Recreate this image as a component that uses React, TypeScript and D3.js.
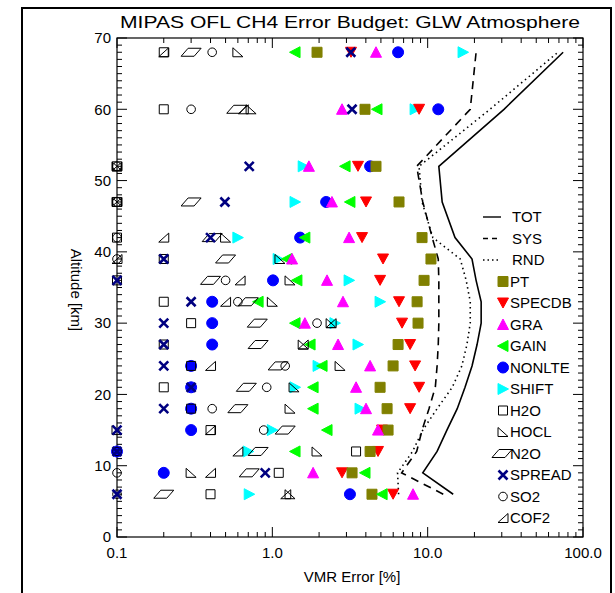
import React from 'react';
import * as d3 from 'd3';

// tangent altitudes [km]
const altitudes = [6, 9, 12, 15, 18, 21, 24, 27, 30, 33, 36, 39, 42, 47, 52, 60, 68];

// total / systematic / random error profiles [%]
const tot = [14.6, 9.3, 11.5, 13.3, 15.5, 17.4, 19.3, 20.8, 22.1, 22.1, 20.5, 19.3, 15.0, 12.4, 11.8, 31.0, 74.5];
const sys = [12.6, 6.8, 8.5, 9.2, 10.2, 11.2, 11.5, 11.7, 11.8, 11.8, 11.8, 11.7, 10.7, 9.3, 8.5, 18.8, 20.5];
const rnd = [6.5, 6.4, 8.0, 9.3, 11.5, 14.4, 16.6, 17.9, 18.8, 18.8, 17.7, 16.2, 10.8, 9.2, 8.8, 25.2, 69.0];

// individual error sources [%] (null = not visible)
const pt = [4.38, 3.26, 4.26, 5.56, 5.48, 4.94, 5.99, 6.45, 8.67, 8.55, 9.48, 10.5, 9.2, 6.54, 4.65, 3.95, 1.94];
const specdb = [5.99, 2.81, 4.79, 5.09, 7.71, 8.81, 8.3, 7.71, 6.84, 6.54, 4.94, 5.16, 3.78, 4.01, 3.56, 8.81, 3.21];
const gra = [8.05, 1.83, null, 4.79, 4.01, 3.46, 4.26, 2.65, 1.62, 2.85, 2.25, 1.34, 3.12, 2.42, 1.72, 2.81, 4.65];
const gain = [5.09, 3.95, 1.4, 2.25, 1.83, 1.83, 2.09, 1.75, 1.4, 0.81, 1.44, 1.24, 1.62, 3.16, 2.94, 4.72, 1.4];
const nonlte = [3.16, 0.2, 0.1, 0.3, 0.3, 0.3, 0.3, 0.41, 0.41, 0.41, 1.01, null, 1.51, 2.22, 4.26, 11.7, 6.45];
const shift = [0.71, null, 0.7, 1.0, 3.67, 1.4, 1.97, 3.56, 2.53, 4.94, 3.12, 1.09, 0.6, 1.4, 1.58, 8.3, 16.9];
const h2o = [0.4, 1.1, 3.46, 0.4, 0.3, 0.2, 0.3, 0.2, 0.3, 0.2, 0.1, 0.2, 0.1, 0.1, 0.1, 0.2, 0.2];
const hocl = [1.3, 0.3, 1.94, 0.1, 1.3, 1.38, 2.73, 1.58, 2.39, 1.0, 1.3, 1.12, 0.5, 0.1, 0.1, 0.73, 0.6];
const n2o = [0.2, 0.71, 0.81, 1.21, 0.6, 0.68, 1.09, 0.81, 0.8, 0.7, 0.4, 0.5, 0.41, 0.3, null, 0.59, 0.3];
const spread = [0.1, 0.9, 0.1, 0.1, 0.2, 0.3, 0.2, 0.2, 0.2, 0.3, 0.1, 0.2, 0.4, 0.495, 0.71, 3.26, 3.2];
const so2 = [0.1, 0.1, 0.1, 0.88, 0.41, 0.92, 1.21, null, 1.94, 0.6, 0.5, 0.1, 0.1, 0.1, 0.1, 0.3, 0.41];
const cof2 = [1.22, 0.4, 0.6, 0.4, null, null, 0.4, 1.58, 2.39, 0.5, 0.62, 0.1, 0.2, 0.1, 0.1, 0.65, 0.2];

const xMajor = [0.1, 1, 10, 100];
const xLabels = ['0.1', '1.0', '10.0', '100.0'];
const yMajor = [0, 10, 20, 30, 40, 50, 60, 70];

const W = 615;
const H = 593;
const font = '"Liberation Sans", Arial, sans-serif';

const x = d3.scaleLog().domain([0.1, 100]).range([117, 583]);
const y = d3.scaleLinear().domain([0, 70]).range([537, 38]);

type Shape = 'fsq' | 'tdown' | 'tup' | 'tleft' | 'fcirc' | 'tright' | 'osq' | 'hocl' | 'para' | 'cross' | 'ocirc' | 'cof2';

function shapePath(s: Shape): string {
  switch (s) {
    case 'fsq': return 'M-5,-5H5V5H-5Z';
    case 'tdown': return 'M-5.5,-5H5.5L0,5Z';
    case 'tup': return 'M-5.5,5H5.5L0,-5.5Z';
    case 'tleft': return 'M5,-5.5V5.5L-5.5,0Z';
    case 'tright': return 'M-5,-5.5V5.5L5.5,0Z';
    case 'fcirc': return d3.arc()({ innerRadius: 0, outerRadius: 5.5, startAngle: 0, endAngle: 2 * Math.PI } as any) || '';
    case 'osq': return 'M-4.5,-4.5H4.5V4.5H-4.5Z';
    case 'hocl': return 'M-5,-4.5V4.5H5Z';
    case 'cof2': return 'M-5,4.5H5V-4.5Z';
    case 'para': return 'M-10,4H3L10,-4H-3Z';
    case 'cross': return 'M-4.5,-4.5L4.5,4.5M-4.5,4.5L4.5,-4.5';
    case 'ocirc': return d3.arc()({ innerRadius: 0, outerRadius: 4.3, startAngle: 0, endAngle: 2 * Math.PI } as any) || '';
  }
}

interface Src { name: string; values: (number | null)[]; shape: Shape; color: string; filled: boolean; }

const sources: Src[] = [
  { name: 'PT', values: pt, shape: 'fsq', color: '#808000', filled: true },
  { name: 'SPECDB', values: specdb, shape: 'tdown', color: '#ff0000', filled: true },
  { name: 'GRA', values: gra, shape: 'tup', color: '#ff00ff', filled: true },
  { name: 'GAIN', values: gain, shape: 'tleft', color: '#00ff00', filled: true },
  { name: 'NONLTE', values: nonlte, shape: 'fcirc', color: '#0000ff', filled: true },
  { name: 'SHIFT', values: shift, shape: 'tright', color: '#00ffff', filled: true },
  { name: 'H2O', values: h2o, shape: 'osq', color: '#000000', filled: false },
  { name: 'HOCL', values: hocl, shape: 'hocl', color: '#000000', filled: false },
  { name: 'N2O', values: n2o, shape: 'para', color: '#000000', filled: false },
  { name: 'SPREAD', values: spread, shape: 'cross', color: '#000080', filled: false },
  { name: 'SO2', values: so2, shape: 'ocirc', color: '#000000', filled: false },
  { name: 'COF2', values: cof2, shape: 'cof2', color: '#000000', filled: false },
];

const drawOrder = ['NONLTE', 'SHIFT', 'SPECDB', 'PT', 'GAIN', 'GRA', 'H2O', 'HOCL', 'N2O', 'SO2', 'COF2', 'SPREAD'];

const profiles = [
  { name: 'TOT', values: tot, dash: 'none', width: 1.6 },
  { name: 'SYS', values: sys, dash: '8,6', width: 1.6 },
  { name: 'RND', values: rnd, dash: '1.5,3.5', width: 1.6 },
];

function Marker({ s, cx, cy }: { s: Src; cx: number; cy: number }) {
  const isCross = s.shape === 'cross';
  return (
    <path
      d={shapePath(s.shape)}
      transform={`translate(${cx},${cy})`}
      fill={s.filled ? s.color : 'none'}
      stroke={s.color}
      strokeWidth={isCross ? 2.6 : 1}
    />
  );
}

export default function App() {
  const line = d3.line<number>().x((d) => x(d)).y((_, i) => y(altitudes[i]));
  const [x0, x1] = x.range();
  const [y0, y1] = y.range();

  const minorX: number[] = [];
  for (let dec = 0.1; dec < 100; dec *= 10) {
    for (let k = 2; k <= 9; k++) minorX.push(dec * k);
  }
  const minorY = d3.range(0, 71, 1).filter((v) => v % 10 !== 0);

  const legendItems = [...profiles.map((p) => p.name), ...sources.map((s) => s.name)];
  const legendY = (i: number) => 217 + i * 21.5;

  return (
    <svg width={W} height={H} style={{ position: 'absolute', left: 0, top: 0 }} fontFamily={font}>
      <rect x={0} y={0} width={W} height={H} fill="#fff" />
      <rect x={22} y={8} width={589} height={620} fill="none" stroke="#000" strokeWidth={2} />

      <text x={350} y={28} textAnchor="middle" fontSize={17} textLength={460} lengthAdjust="spacingAndGlyphs">
        MIPAS OFL CH4 Error Budget: GLW Atmosphere
      </text>

      {/* plot box */}
      <rect x={x0} y={y1} width={x1 - x0} height={y0 - y1} fill="none" stroke="#000" strokeWidth={1.2} />

      {/* x ticks, bottom and top */}
      {xMajor.map((v) => (
        <g key={'xm' + v}>
          <line x1={x(v)} x2={x(v)} y1={y0} y2={y0 - 10} stroke="#000" />
          <line x1={x(v)} x2={x(v)} y1={y1} y2={y1 + 10} stroke="#000" />
        </g>
      ))}
      {minorX.map((v) => (
        <g key={'xn' + v}>
          <line x1={x(v)} x2={x(v)} y1={y0} y2={y0 - 5} stroke="#000" />
          <line x1={x(v)} x2={x(v)} y1={y1} y2={y1 + 5} stroke="#000" />
        </g>
      ))}
      {xMajor.map((v, i) => (
        <text key={'xl' + v} x={x(v)} y={y0 + 21} textAnchor="middle" fontSize={15}>
          {xLabels[i]}
        </text>
      ))}
      <text x={352} y={582} textAnchor="middle" fontSize={15}>VMR Error [%]</text>

      {/* y ticks, left and right */}
      {yMajor.map((v) => (
        <g key={'ym' + v}>
          <line x1={x0} x2={x0 + 10} y1={y(v)} y2={y(v)} stroke="#000" />
          <line x1={x1} x2={x1 - 10} y1={y(v)} y2={y(v)} stroke="#000" />
          <text x={111} y={y(v)} dy="0.35em" textAnchor="end" fontSize={15}>{v}</text>
        </g>
      ))}
      {minorY.map((v) => (
        <g key={'yn' + v}>
          <line x1={x0} x2={x0 + 5} y1={y(v)} y2={y(v)} stroke="#000" />
          <line x1={x1} x2={x1 - 5} y1={y(v)} y2={y(v)} stroke="#000" />
        </g>
      ))}
      <text transform="translate(71,290) rotate(90)" textAnchor="middle" fontSize={15}>Altitude [km]</text>

      {/* profiles */}
      {profiles.map((p) => (
        <path key={p.name} d={line(p.values) || ''} fill="none" stroke="#000" strokeWidth={p.width}
          strokeDasharray={p.dash === 'none' ? undefined : p.dash} />
      ))}

      {/* individual sources */}
      {drawOrder.map((name) => {
        const s = sources.find((d) => d.name === name)!;
        return (
          <g key={name}>
            {s.values.map((v, i) =>
              v == null ? null : <Marker key={i} s={s} cx={x(v)} cy={y(altitudes[i])} />
            )}
          </g>
        );
      })}

      {/* legend */}
      {profiles.map((p, i) => (
        <line key={'lg' + p.name} x1={483} x2={501} y1={legendY(i)} y2={legendY(i)} stroke="#000"
          strokeWidth={1.4} strokeDasharray={p.dash === 'none' ? undefined : p.name === 'SYS' ? '5,4' : '1.5,3'} />
      ))}
      {sources.map((s, i) => (
        <Marker key={'lm' + s.name} s={s} cx={s.shape === 'para' ? 502 : 503} cy={legendY(i + profiles.length)} />
      ))}
      {legendItems.map((name, i) => (
        <text key={'lt' + name} x={i < 3 ? 512 : 510} y={legendY(i)} dy="0.36em" fontSize={15}>{name}</text>
      ))}
    </svg>
  );
}
